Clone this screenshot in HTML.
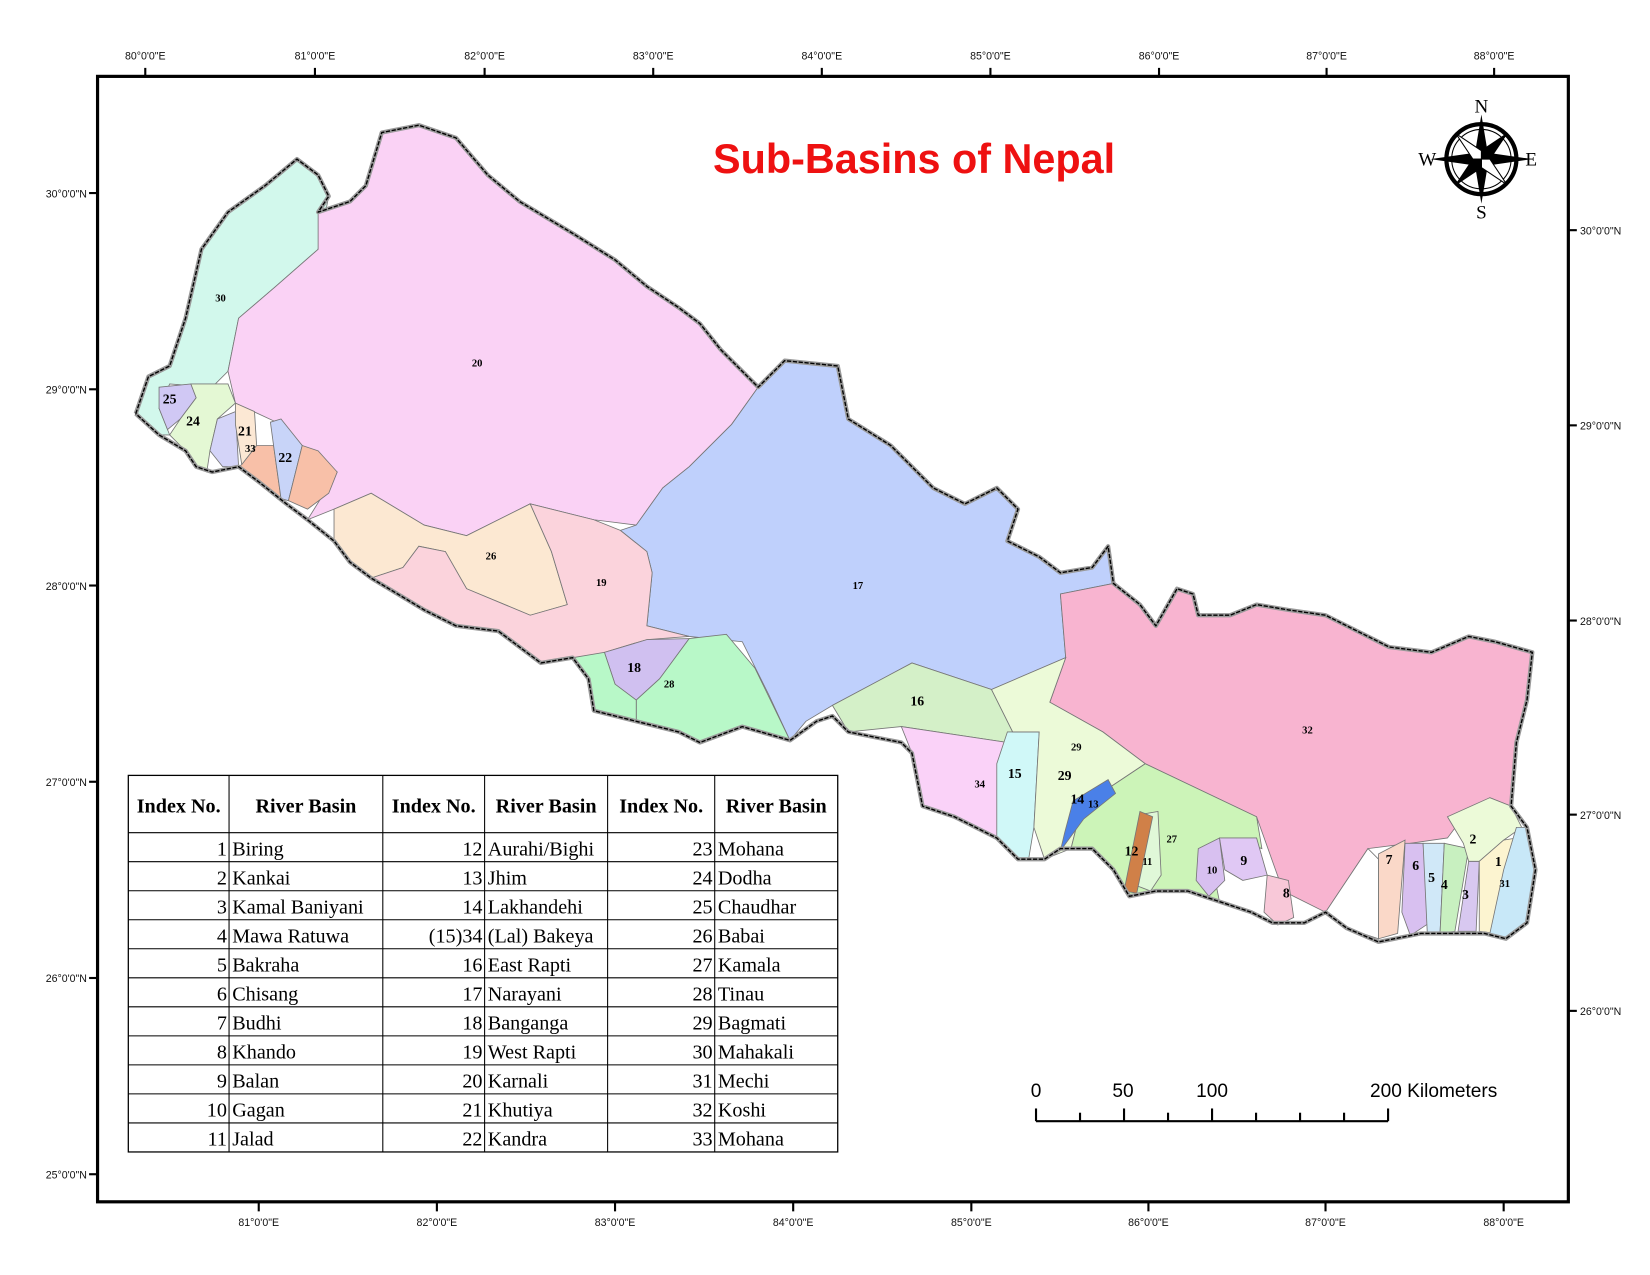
<!DOCTYPE html>
<html><head><meta charset="utf-8"><style>
html,body{margin:0;padding:0;background:#fff;width:1650px;height:1275px;overflow:hidden}
svg{display:block}
.g{font-family:"Liberation Sans",sans-serif;font-size:10px;fill:#111}
.n{font-family:"Liberation Serif",serif;font-weight:bold;fill:#000}
.t{font-family:"Liberation Serif",serif;font-size:19px;fill:#000}
</style></head><body>
<svg width="1650" height="1275" viewBox="0 0 1556 1202" preserveAspectRatio="none">
<rect x="92" y="72" width="1387" height="1061" fill="#fff" stroke="#000" stroke-width="3"/>
<g id="ticks"></g>
<text x="862" y="163" text-anchor="middle" font-family="Liberation Sans,sans-serif" font-weight="bold" font-size="39" fill="#ee1111">Sub-Basins of Nepal</text>
<g stroke="#777" stroke-width="0.8">
<polygon fill="#d2f8ec" points="128,390 140,355 160,345 175,300 190,235 215,200 250,175 280,150 300,165 310,185 300,235 260,270 225,300 215,350 200,365 160,362 150,385 160,410 150,410"/>
<polygon fill="#fad2f5" points="300,200 330,190 345,175 360,125 395,118 430,130 460,165 490,190 540,220 580,245 610,270 640,290 660,305 680,330 715,365 690,400 650,440 625,460 600,495 560,490 500,475 440,505 400,495 350,465 315,480 290,490 318,445 285,420 265,400 222,380 215,350 225,300 260,270 300,235"/>
<polygon fill="#bfd0fc" points="715,365 740,340 790,345 800,395 840,420 880,460 910,475 940,460 960,480 950,510 980,525 1000,540 1030,535 1045,515 1050,550 1000,560 1005,620 935,650 860,625 785,665 760,680 745,698 725,655 700,605 650,600 610,590 615,540 610,520 585,500 600,495 625,460 650,440 690,400"/>
<polygon fill="#f8b4d0" points="1000,560 1050,550 1075,570 1090,590 1110,555 1125,560 1130,580 1160,580 1185,570 1215,575 1250,580 1280,595 1310,610 1350,615 1385,600 1410,605 1445,615 1440,660 1430,700 1425,760 1405,752 1380,770 1365,790 1330,795 1290,800 1250,860 1210,840 1185,770 1080,720 1040,690 990,662 1005,620"/>
<polygon fill="#fce8d2" points="315,510 315,480 350,465 400,495 440,505 500,475 520,520 535,570 500,580 440,555 420,520 395,515 380,535 350,545 330,530"/>
<polygon fill="#fbd3dc" points="380,535 395,515 420,520 440,555 500,580 535,570 520,520 500,475 560,490 585,500 610,520 615,540 610,590 650,600 610,603 570,615 555,620 540,620 510,625 470,595 430,590 400,575 350,545"/>
<polygon fill="#d0c0f0" points="570,615 610,603 650,602 622,640 600,660 580,645"/>
<polygon fill="#b8f8c8" points="600,660 622,640 650,602 685,598 712,630 745,698 700,685 660,700 640,690 600,680"/>
<polygon fill="#b8f8c8" points="540,620 570,615 580,645 600,660 600,680 560,670 555,640"/>
<polygon fill="#d4f0c8" points="785,665 860,625 935,650 955,690 950,700 850,685 800,690"/>
<polygon fill="#fad2f8" points="850,685 950,700 940,790 900,770 870,760 860,710"/>
<polygon fill="#d0f8f8" points="950,690 980,690 975,780 970,810 960,810 940,790 940,720"/>
<polygon fill="#ecfad8" points="935,650 1005,620 990,662 1040,690 1080,720 1020,760 1010,800 985,810 975,780 980,690 955,690"/>
<polygon fill="#ccf4b8" points="1020,760 1080,720 1185,770 1190,800 1160,790 1140,800 1150,850 1120,840 1090,840 1065,845 1050,820 1030,800 1010,800"/>
<polygon fill="#4a80e8" points="1012,755 1045,735 1052,748 1022,772 1000,802 1004,785"/>
<polygon fill="#e0f8d8" points="1075,768 1092,765 1095,825 1085,840 1072,835"/>
<polygon fill="#d08048" points="1060,840 1075,765 1087,770 1072,842"/>
<polygon fill="#e0c8f4" points="1150,790 1185,790 1195,825 1172,830 1155,820"/>
<polygon fill="#d8c0f0" points="1130,800 1150,790 1155,830 1140,845 1128,830"/>
<polygon fill="#f8c8d8" points="1195,825 1215,830 1220,865 1205,872 1192,860"/>
<polygon fill="#ffffff" points="1290,800 1300,810 1300,885 1270,875 1250,860"/>
<polygon fill="#fad8c8" points="1300,805 1325,792 1318,880 1300,885"/>
<polygon fill="#d8c0f0" points="1325,795 1342,795 1348,870 1330,882 1322,860"/>
<polygon fill="#d0e8f8" points="1342,795 1362,795 1358,880 1346,880"/>
<polygon fill="#c8f0c0" points="1362,795 1385,800 1372,878 1358,880"/>
<polygon fill="#d8c8f0" points="1385,812 1395,812 1392,878 1375,878"/>
<polygon fill="#ecfad8" points="1365,770 1405,752 1425,760 1435,780 1418,792 1395,812 1385,812 1380,795"/>
<polygon fill="#fcf4d0" points="1395,812 1418,792 1430,790 1410,880 1395,878"/>
<polygon fill="#c8e8f8" points="1430,780 1440,780 1448,820 1440,870 1420,885 1405,880 1418,820"/>
<polygon fill="#d0c8f4" points="150,365 180,362 185,375 170,395 158,405 150,385"/>
<polygon fill="#e4f8d4" points="170,395 185,375 180,362 200,362 215,362 222,380 205,395 198,425 195,445 185,440 175,425 160,410"/>
<polygon fill="#d4d4f8" points="198,425 205,395 222,388 225,440 210,440"/>
<polygon fill="#fce8d4" points="222,380 240,388 242,420 228,438 222,400"/>
<polygon fill="#f8c0a8" points="225,440 228,438 242,420 258,420 265,470 245,455"/>
<polygon fill="#c8d4f8" points="255,398 265,395 285,420 272,472 265,470 258,420"/>
<polygon fill="#f8c0a8" points="285,420 300,425 318,445 310,465 290,480 272,472"/>
</g>
<polyline fill="none" stroke="#999" stroke-width="4" stroke-linejoin="round" points="128,390 140,355 160,345 175,300 190,235 215,200 250,175 280,150 300,165 310,185 300,200 330,190 345,175 360,125 395,118 430,130 460,165 490,190 540,220 580,245 610,270 640,290 660,305 680,330 715,365 740,340 790,345 800,395 840,420 880,460 910,475 940,460 960,480 950,510 980,525 1000,540 1030,535 1045,515 1050,550 1075,570 1090,590 1110,555 1125,560 1130,580 1160,580 1185,570 1215,575 1250,580 1280,595 1310,610 1350,615 1385,600 1410,605 1445,615 1440,660 1430,700 1425,760 1440,780 1448,820 1440,870 1420,885 1400,880 1380,880 1340,880 1300,888 1270,875 1250,860 1230,870 1200,870 1180,860 1150,850 1120,840 1090,840 1065,845 1050,820 1030,800 1000,800 985,810 960,810 940,790 900,770 870,760 860,710 850,700 800,690 785,675 770,680 745,698 700,685 660,700 640,690 600,680 580,675 560,670 555,640 540,620 510,625 470,595 430,590 400,575 350,545 330,530 315,510 290,490 270,475 245,455 225,440 200,445 185,440 175,425 150,410 128,390"/>
<polyline fill="none" stroke="#000" stroke-width="1.3" stroke-dasharray="4 1.5" stroke-linejoin="round" points="128,390 140,355 160,345 175,300 190,235 215,200 250,175 280,150 300,165 310,185 300,200 330,190 345,175 360,125 395,118 430,130 460,165 490,190 540,220 580,245 610,270 640,290 660,305 680,330 715,365 740,340 790,345 800,395 840,420 880,460 910,475 940,460 960,480 950,510 980,525 1000,540 1030,535 1045,515 1050,550 1075,570 1090,590 1110,555 1125,560 1130,580 1160,580 1185,570 1215,575 1250,580 1280,595 1310,610 1350,615 1385,600 1410,605 1445,615 1440,660 1430,700 1425,760 1440,780 1448,820 1440,870 1420,885 1400,880 1380,880 1340,880 1300,888 1270,875 1250,860 1230,870 1200,870 1180,860 1150,850 1120,840 1090,840 1065,845 1050,820 1030,800 1000,800 985,810 960,810 940,790 900,770 870,760 860,710 850,700 800,690 785,675 770,680 745,698 700,685 660,700 640,690 600,680 580,675 560,670 555,640 540,620 510,625 470,595 430,590 400,575 350,545 330,530 315,510 290,490 270,475 245,455 225,440 200,445 185,440 175,425 150,410 128,390"/>
<g id="labels"></g>
<g transform="translate(1397,150)">
<circle r="33" fill="none" stroke="#000" stroke-width="4"/>
<circle r="28" fill="none" stroke="#000" stroke-width="1"/>
<polygon points="0,-42 6,-6 0,0 -6,-6" fill="#000"/><polygon points="0,42 6,6 0,0 -6,6" fill="#000"/>
<polygon points="-48,0 -6,-6 0,0 -6,6" fill="#000"/><polygon points="48,0 6,-6 0,0 6,6" fill="#000"/>
<polygon points="24,-24 8,0 0,0 0,-8" fill="#000" stroke="#000"/><polygon points="-24,-24 0,-8 0,0 -8,0" fill="#fff" stroke="#000"/>
<polygon points="24,24 0,8 0,0 8,0" fill="#fff" stroke="#000"/><polygon points="-24,24 -8,0 0,0 0,8" fill="#000" stroke="#000"/>
<text x="0" y="-44" text-anchor="middle" font-family="Liberation Serif,serif" font-size="18">N</text>
<text x="0" y="56" text-anchor="middle" font-family="Liberation Serif,serif" font-size="18">S</text>
<text x="-51" y="6" text-anchor="middle" font-family="Liberation Serif,serif" font-size="18">W</text>
<text x="47" y="6" text-anchor="middle" font-family="Liberation Serif,serif" font-size="18">E</text>
</g>
<g font-family="Liberation Sans,sans-serif" font-size="18">
<text x="977" y="1034" text-anchor="middle">0</text><text x="1059" y="1034" text-anchor="middle">50</text><text x="1143" y="1034" text-anchor="middle">100</text><text x="1292" y="1034">200 Kilometers</text>
<line x1="977" y1="1057" x2="1309" y2="1057" stroke="#000" stroke-width="2"/>
<g id="sbt"></g>
</g>
<g id="table"></g>
</svg>
<script>
var NS="http://www.w3.org/2000/svg";
function mk(p,tag,a,txt){var e=document.createElementNS(NS,tag);for(var k in a)e.setAttribute(k,a[k]);if(txt!==undefined)e.textContent=txt;p.appendChild(e);return e;}
var tk=document.getElementById('ticks');
var topX=[137,297,457,616,775,934,1093,1251,1409],topL=["80","81","82","83","84","85","86","87","88"];
topX.forEach(function(x,i){mk(tk,'line',{x1:x,y1:64,x2:x,y2:72,stroke:'#000','stroke-width':2});var t=mk(tk,'text',{x:x,y:56,'text-anchor':'middle','class':'g'},topL[i]+"°0'0\"E");});
var botX=[244,412,580,748,916,1083,1250,1418],botL=["81","82","83","84","85","86","87","88"];
botX.forEach(function(x,i){mk(tk,'line',{x1:x,y1:1133,x2:x,y2:1142,stroke:'#000','stroke-width':2});var t=mk(tk,'text',{x:x,y:1156,'text-anchor':'middle','class':'g'},botL[i]+"°0'0\"E");});
var leftY=[182,367,552,737,922,1107],leftL=["30","29","28","27","26","25"];
leftY.forEach(function(y,i){mk(tk,'line',{x1:84,y1:y,x2:92,y2:y,stroke:'#000','stroke-width':2});var t=mk(tk,'text',{x:82,y:y+4,'text-anchor':'end','class':'g'},leftL[i]+"°0'0\"N");});
var rightY=[217,401,585,768,953],rightL=["30","29","28","27","26"];
rightY.forEach(function(y,i){mk(tk,'line',{x1:1479,y1:y,x2:1487,y2:y,stroke:'#000','stroke-width':2});var t=mk(tk,'text',{x:1490,y:y+4,'class':'g'},rightL[i]+"°0'0\"N");});
var sb=document.getElementById('sbt');
for(var i=0;i<=8;i++){var x=977+i*41.5;var h=(i==0||i==2||i==4||i==8)?12:8;mk(sb,'line',{x1:x,y1:1057-h,x2:x,y2:1057,stroke:'#000','stroke-width':2});}
var labNames=["30","20","25","24","21","33","22","26","19","17","18","28","16","34","15","29","29","14","13","12","11","27","9","10","8","32","7","6","5","4","3","2","1","31"];
var labPos=[[208,281,10],[450,342,10],[160,376,13],[182,397,13],[231,406,13],[236,423,10],[269,431,13],[463,524,10],[567,549,10],[809,552,10],[598,629,13],[631,645,10],[865,661,13],[924,739,10],[957,729,13],[1015,704,10],[1004,731,13],[1016,753,13],[1031,758,10],[1067,802,13],[1082,812,10],[1105,791,10],[1173,811,13],[1143,820,10],[1213,842,13],[1233,688,10],[1310,810,13],[1335,816,13],[1350,827,13],[1362,834,13],[1382,843,13],[1389,791,13],[1413,812,13],[1419,833,10]];
var lg=document.getElementById('labels');
labNames.forEach(function(n,i){var p=labPos[i];var t=mk(lg,'text',{x:p[0],y:p[1]+p[2]/3,'text-anchor':'middle','class':'n','font-size':p[2]},n);});
var colX=[121,216,361,457,573,674,790];
var idxA=["1","2","3","4","5","6","7","8","9","10","11"],nmA=["Biring","Kankai","Kamal Baniyani","Mawa Ratuwa","Bakraha","Chisang","Budhi","Khando","Balan","Gagan","Jalad"];
var idxB=["12","13","14","(15)34","16","17","18","19","20","21","22"],nmB=["Aurahi/Bighi","Jhim","Lakhandehi","(Lal) Bakeya","East Rapti","Narayani","Banganga","West Rapti","Karnali","Khutiya","Kandra"];
var idxC=["23","24","25","26","27","28","29","30","31","32","33"],nmC=["Mohana","Dodha","Chaudhar","Babai","Kamala","Tinau","Bagmati","Mahakali","Mechi","Koshi","Mohana"];
var tb=document.getElementById('table');
var tTop=731,tHdr=785,tBot=1086,rh=(tBot-tHdr)/11;
mk(tb,'rect',{x:121,y:tTop,width:669,height:tBot-tTop,fill:'#fff',stroke:'#000','stroke-width':1.2});
colX.slice(1,6).forEach(function(x){mk(tb,'line',{x1:x,y1:tTop,x2:x,y2:tBot,stroke:'#000','stroke-width':1});});
for(var r=0;r<11;r++){mk(tb,'line',{x1:121,y1:tHdr+r*rh,x2:790,y2:tHdr+r*rh,stroke:'#000','stroke-width':1});}
var hd=["Index No.","River Basin","Index No.","River Basin","Index No.","River Basin"];
hd.forEach(function(h,i){var t=mk(tb,'text',{x:(colX[i]+colX[i+1])/2,y:766,'text-anchor':'middle','class':'t','font-weight':'bold'},h);});
[[idxA,nmA],[idxB,nmB],[idxC,nmC]].forEach(function(g,c){for(var r=0;r<11;r++){var y=tHdr+r*rh+rh-6;var a=mk(tb,'text',{x:colX[c*2+1]-2,y:y,'text-anchor':'end','class':'t'},g[0][r]);var b=mk(tb,'text',{x:colX[c*2+1]+3,y:y,'class':'t'},g[1][r]);}});
</script>
</body></html>
